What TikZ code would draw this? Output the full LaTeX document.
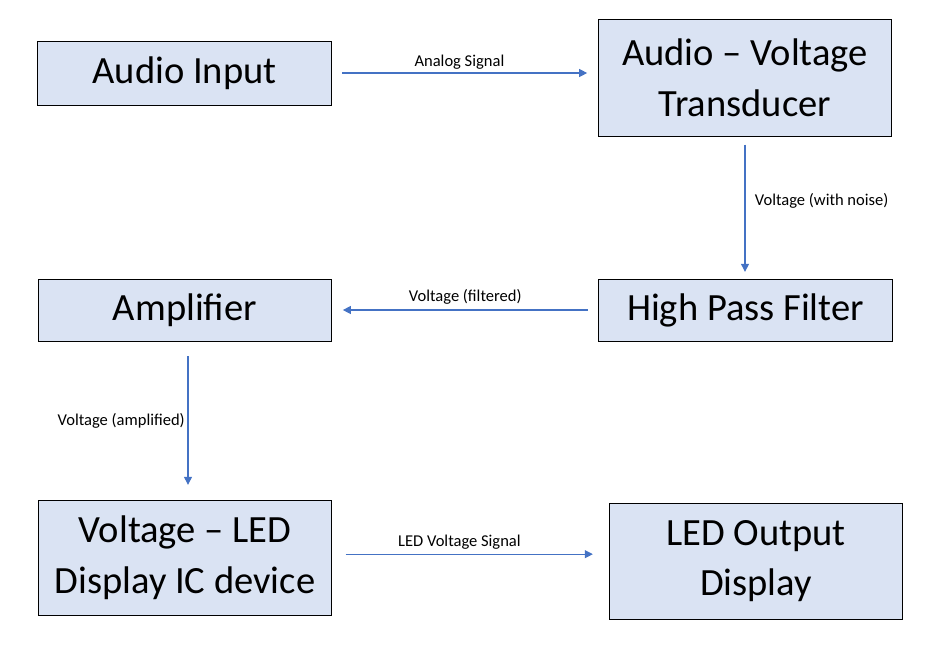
\documentclass[tikz,border=0pt]{standalone}
\usepackage{fontspec}
\setmainfont{Carlito}
\usetikzlibrary{arrows.meta}
\definecolor{boxfill}{HTML}{DAE3F3}
\definecolor{flowblue}{HTML}{4472C4}

\begin{document}
\begin{tikzpicture}[
		x=0.75pt, y=-0.75pt,
		block/.style={rectangle, draw=black, fill=boxfill, line width=0.75pt, align=center,
			minimum width=220pt, inner sep=0pt, font=\fontsize{28.9}{38}\selectfont},
		flow/.style={draw=flowblue, line width=0.8pt, -{Triangle[width=6pt,length=6pt]},
			shorten >=8pt, shorten <=8pt},
		tag/.style={font=\fontsize{12.4}{15}\selectfont, inner sep=2pt}
	]
  \useasboundingbox (0,0) rectangle (938,647);
  \node (ain) [block, minimum height=48pt] at (184.5, 73) {Audio Input};
  \node (trans) [block, minimum height=87.75pt] at (745, 77.5) {Audio -- Voltage\\Transducer};
  \node (hpf) [block, minimum height=46.5pt] at (745.5, 310) {High Pass Filter};
  \node (amp) [block, minimum height=46.5pt] at (185, 310) {Amplifier};
  \node (vled) [block, minimum height=86.25pt] at (185, 557.5) {Voltage -- LED\\Display IC device};
  \node (ledout) [block, minimum height=87pt] at (756, 561) {LED Output\\Display};
  % signal flow
  \draw[flow] (ain.east) -- (ain.east -| trans.west)
    node (t_analog) [tag, pos=0.48, above] {Analog Signal};
  \draw[flow, shorten >=5pt, shorten <=6pt] (trans.south) -- (trans.south |- hpf.north)
    node (t_noise) [tag, pos=0.45, right, xshift=5pt] {Voltage (with noise)};
  \draw[flow] (hpf.west) -- (amp.east)
    node (t_filt) [tag, midway, above, yshift=2pt] {Voltage (filtered)};
  \draw[flow, shorten >=11pt, shorten <=11pt] ([xshift=2.25pt]amp.south) -- ([xshift=2.25pt]vled.north)
    node (t_amp) [tag, midway, left] {Voltage (amplified)};
  \draw[flow, shorten >=12pt, shorten <=10pt] ([yshift=2.5pt]vled.east) -- ([yshift=2.5pt]vled.east -| ledout.west)
    node (t_led) [tag, pos=0.46, above, yshift=1pt] {LED Voltage Signal};
\end{tikzpicture}
\end{document}
